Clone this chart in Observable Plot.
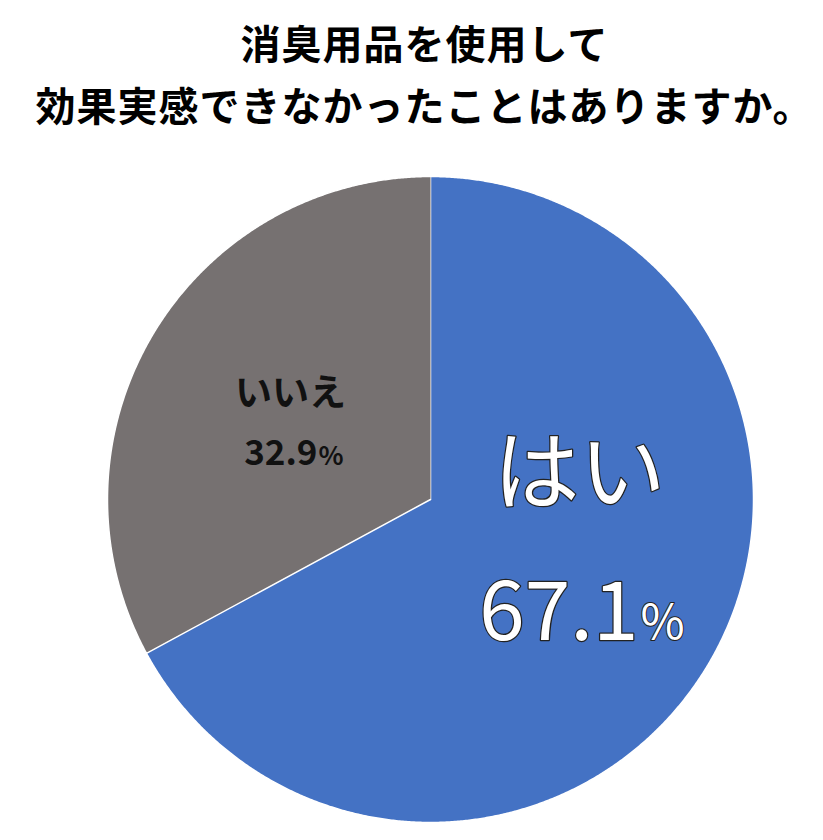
<!DOCTYPE html>
<html><head><meta charset="utf-8">
<script src="https://cdn.jsdelivr.net/npm/d3@7"></script>
<script src="https://cdn.jsdelivr.net/npm/@observablehq/plot@0.6"></script>
<style>
html,body{margin:0;padding:0;background:#fff}
body{width:823px;height:840px;overflow:hidden;font-family:"Noto Sans CJK JP","Noto Sans",sans-serif}
#title{height:150px;box-sizing:border-box;padding-top:11px;padding-left:26px;text-align:center;font-weight:bold;font-size:40px;letter-spacing:1px;color:#000}
#title div{height:62px;line-height:62px;white-space:nowrap}
#chart svg{display:block}
</style></head><body>
<div id="title"></div>
<div id="chart"></div>
<script>
const titleLines = ["消臭用品を使用して", "効果実感できなかったことはありますか。"];
const categories = ["はい", "いいえ"];
const values = [67.1, 32.9];
const colors = ["#4472C4", "#767171"];

const title = document.getElementById("title");
for (const t of titleLines) { const d = document.createElement("div"); d.textContent = t; title.appendChild(d); }

const rows = categories.map((c, i) => ({category: c, value: values[i]}));
const arcs = d3.pie().sort(null).value(d => d.value)(rows);

// polygon outline of each slice (center + arc samples), from pie angles
const slicePts = arcs.flatMap(a => {
  const n = Math.max(2, Math.ceil((a.endAngle - a.startAngle) / 0.005));
  const pts = [{category: a.data.category, x: 0, y: 0}];
  for (let i = 0; i <= n; i++) {
    const t = a.startAngle + (a.endAngle - a.startAngle) * i / n;
    pts.push({category: a.data.category, x: Math.sin(t), y: Math.cos(t)});
  }
  return pts;
});

const R = 0.49;
const labels = arcs.map(a => {
  const m = (a.startAngle + a.endAngle) / 2;
  return {category: a.data.category, num: a.data.value.toFixed(1), x: R * Math.sin(m), y: R * Math.cos(m)};
});
const blue = labels.filter(d => d.category === "はい");
const gray = labels.filter(d => d.category === "いいえ");
const font = "Noto Sans CJK JP";

const chart = Plot.plot({
  width: 823,
  height: 690,
  marginLeft: 107,
  marginRight: 70,
  marginTop: 26,
  marginBottom: 18,
  x: {domain: [-1, 1], axis: null},
  y: {domain: [-1, 1], axis: null},
  color: {domain: categories, range: colors},
  marks: [
    Plot.line(slicePts, {x: "x", y: "y", z: "category", fill: "category", stroke: "#fff", strokeWidth: 1.5, curve: "linear"}),
    // はい label
    Plot.text(blue, {x: "x", y: "y", text: "category", dx: 13, dy: -105, fontSize: 86, fontFamily: font, fill: "#fff", stroke: "#222", strokeWidth: 2.5, paintOrder: "stroke"}),
    Plot.text(blue, {x: "x", y: "y", text: "num", textAnchor: "end", dx: 72, dy: 33, fontSize: 82, fontFamily: font, fill: "#fff", stroke: "#222", strokeWidth: 2.5, paintOrder: "stroke"}),
    Plot.text(blue, {x: "x", y: "y", text: () => "%", textAnchor: "start", dx: 74, dy: 43, fontSize: 48, fontFamily: font, fill: "#fff", stroke: "#222", strokeWidth: 2, paintOrder: "stroke"}),
    // いいえ label
    Plot.text(gray, {x: "x", y: "y", text: "category", dx: -4, dy: -24, fontSize: 37, fontWeight: "bold", fontFamily: font, fill: "#111"}),
    Plot.text(gray, {x: "x", y: "y", text: "num", textAnchor: "end", dx: 23, dy: 35, fontSize: 35, fontWeight: "bold", fontFamily: font, fill: "#111"}),
    Plot.text(gray, {x: "x", y: "y", text: () => "%", textAnchor: "start", dx: 24, dy: 38, fontSize: 26, fontWeight: "bold", fontFamily: font, fill: "#111"})
  ]
});
document.getElementById("chart").appendChild(chart);
</script>
</body></html>
